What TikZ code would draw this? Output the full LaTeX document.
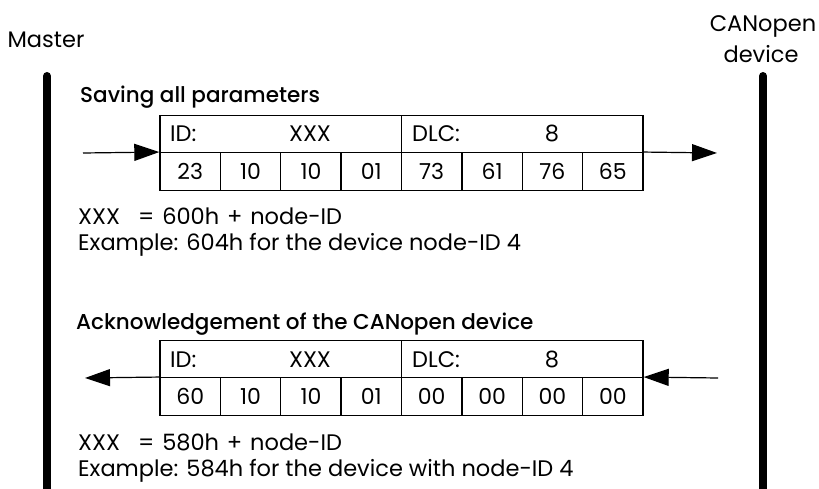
\documentclass[tikz,border=0pt]{standalone}
\usepackage{fontspec}
\setmainfont{Poppins}[BoldFont=Poppins Medium]
\usetikzlibrary{arrows.meta}

\tikzset{
  bar/.style={line width=8pt, line cap=round},
  cell/.style={draw, line width=1.4pt, minimum width=60.375pt, minimum height=37.5pt, inner sep=0pt, font=\fontsize{22}{26}\selectfont},
  field/.style={draw, line width=1.4pt, minimum width=241.5pt, minimum height=37.5pt, inner sep=0pt},
  txt/.style={anchor=base west, inner sep=0pt, font=\fontsize{22.5}{26}\selectfont},
  head/.style={anchor=base west, inner sep=0pt, font=\fontsize{21.5}{26}\selectfont\bfseries},
  msg/.style={line width=1.2pt, -{Triangle[length=25pt, width=17pt]}},
}

\begin{document}
\begin{tikzpicture}[x=1pt, y=-1pt]
        \useasboundingbox (0, 0) rectangle (819, 489);

        % participants
        \node[txt, anchor=base] (master) at (46, 48) {Master};
        \node[txt, anchor=base] (canopen) at (763, 32) {CANopen};
        \node[txt, anchor=base] (device) at (761, 63) {device};
        \coordinate (mtop) at (47, 76);
        \coordinate (mbot) at (47, 495);
        \coordinate (dtop) at (763, 76);
        \coordinate (dbot) at (763, 495);
        \draw[bar] (mtop) -- (mbot);
        \draw[bar] (dtop) -- (dbot);

        % request
        \node[head] (savehead) at (80, 103) {Saving all parameters};
        \node[field] (sid) at (280.75, 134) {};
        \node[field] (sdlc) at (522.25, 134) {};
        \node[txt] (sidlbl) at (170, 142) {ID:};
        \node[txt, anchor=base] (sidval) at (310, 142) {XXX};
        \node[txt] (sdlclbl) at (412, 142) {DLC:};
        \node[txt, anchor=base] (sdlcval) at (552, 142) {8};
        \foreach \v [count=\i] in {23,10,10,01,73,61,76,65}
            \node[cell] (s\i) at ({160+(\i-0.5)*60.375}, 171.5) {\v};
        \coordinate (sfrom) at (83, 153);
        \coordinate (sto) at (717, 153);
        \draw[msg] (sfrom) -- (s1.north west);
        \draw[msg] (s8.north east) -- (sto);
        \node[txt] (sform) at (78, 225) {XXX\hspace{0.8em}=\hspace{0.35em}600h\hspace{0.35em}+\hspace{0.35em}node-ID};
        \node[txt] (sexmp) at (78, 251) {Example: 604h for the device node-ID 4};

        % acknowledgement
        \node[head] (ackhead) at (76, 329) {Acknowledgement of the CANopen device};
        \node[field] (aid) at (280.75, 359) {};
        \node[field] (adlc) at (522.25, 359) {};
        \node[txt] (aidlbl) at (170, 367) {ID:};
        \node[txt, anchor=base] (aidval) at (310, 367) {XXX};
        \node[txt] (adlclbl) at (412, 367) {DLC:};
        \node[txt, anchor=base] (adlcval) at (552, 367) {8};
        \foreach \v [count=\i] in {60,10,10,01,00,00,00,00}
            \node[cell] (a\i) at ({160+(\i-0.5)*60.375}, 396.5) {\v};
        \coordinate (afrom) at (718, 378);
        \coordinate (ato) at (85, 378);
        \draw[msg] (afrom) -- (a8.north east);
        \draw[msg] (a1.north west) -- (ato);
        \node[txt] (aform) at (78, 450) {XXX\hspace{0.8em}=\hspace{0.35em}580h\hspace{0.35em}+\hspace{0.35em}node-ID};
        \node[txt] (aexmp) at (78, 476) {Example: 584h for the device with node-ID 4};
\end{tikzpicture}
\end{document}
